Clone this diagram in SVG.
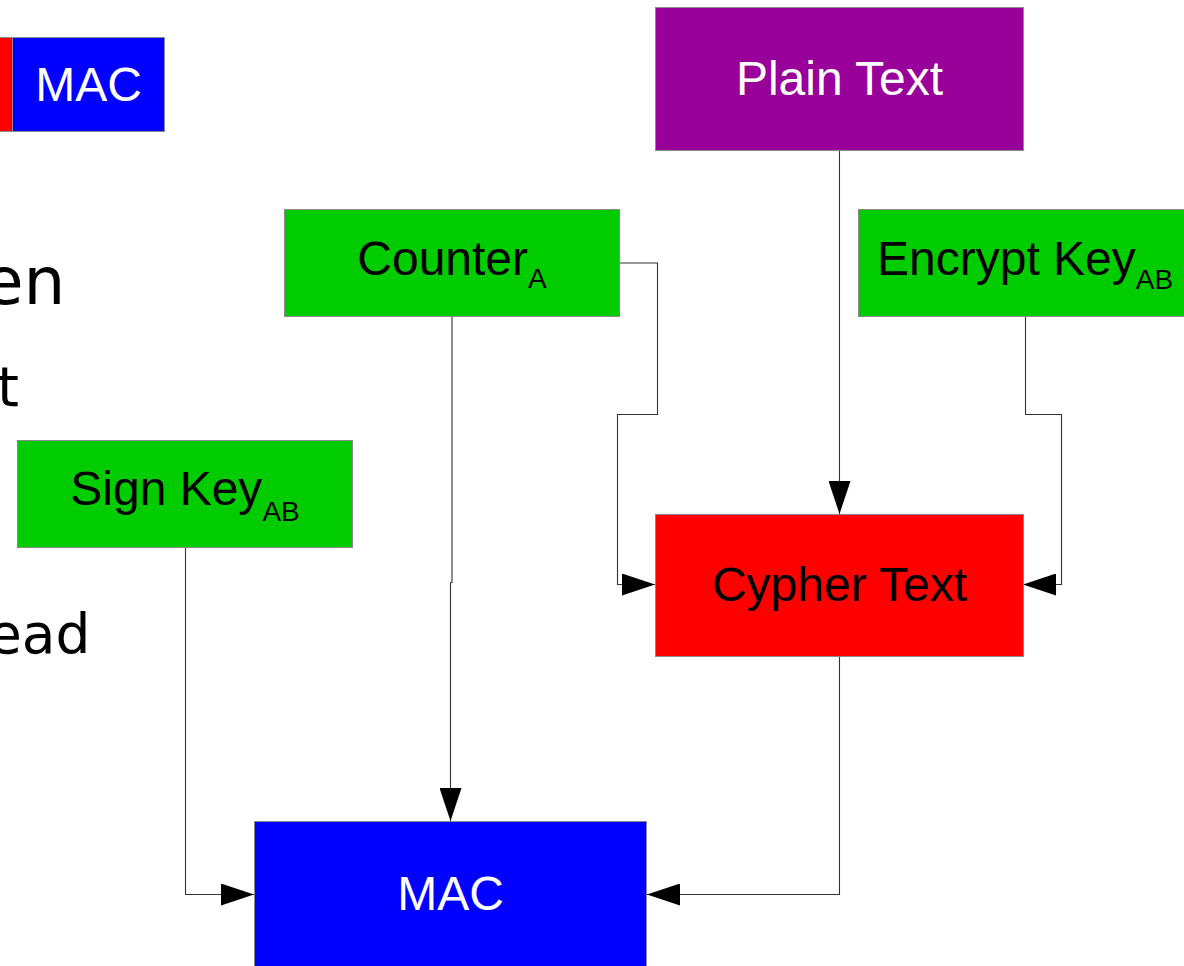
<svg xmlns="http://www.w3.org/2000/svg" width="1184" height="966" viewBox="0 0 1184 966">
  <style>
    .box { stroke: #8a8a8a; stroke-width: 1; }
    .lbl { font-family: "Liberation Sans", Arial, sans-serif; font-size: 48px; text-anchor: middle; }
    .sub { font-size: 28px; }
    .dark { fill: #000000; }
    .light { fill: #ffffff; }
    .side { font-family: "DejaVu Sans", sans-serif; fill: #000000; }
    .wire { fill: none; stroke: #333333; stroke-width: 1.1; }
  </style>
  <defs>
    <marker id="arrow" viewBox="0 0 33 22" refX="33" refY="11" markerWidth="33" markerHeight="22" markerUnits="userSpaceOnUse" orient="auto">
      <path d="M0,0 L33,11 L0,22 Z" fill="#000000"/>
    </marker>
  </defs>

  <rect width="1184" height="966" fill="#ffffff"/>

  <!-- partial text running off the left edge -->
  <g id="side-text">
    <text class="side" x="-17" y="304" font-size="66">en</text>
    <text class="side" x="-3" y="406" font-size="56">t</text>
    <text class="side" x="-12" y="653" font-size="55">ead</text>
  </g>

  <!-- small packet strip at top left -->
  <g id="packet-strip">
    <rect x="-2" y="37.5" width="14.5" height="94" fill="#ff0000" class="box"/>
    <rect x="12.5" y="37.5" width="152" height="94" fill="#0000ff" class="box"/>
    <text class="lbl light" x="88.5" y="101">MAC</text>
  </g>

  <!-- connectors -->
  <g id="connectors">
    <path class="wire" d="M839.5,150 V514" marker-end="url(#arrow)"/>
    <path class="wire" d="M619,263 H657.5 V414.5 H617.5 V584.5 H655" marker-end="url(#arrow)"/>
    <path class="wire" d="M1025.5,316 V414.5 H1061.5 V584.5 H1023" marker-end="url(#arrow)"/>
    <path class="wire" d="M452,316 V582.5 H450.5 V821" marker-end="url(#arrow)"/>
    <path class="wire" d="M185.5,548 V894.5 H254" marker-end="url(#arrow)"/>
    <path class="wire" d="M839.5,656 V894.5 H647" marker-end="url(#arrow)"/>
  </g>

  <g id="plain-text">
    <rect x="655.5" y="7.5" width="368" height="143" fill="#990099" class="box"/>
    <text class="lbl light" x="839.5" y="95">Plain Text</text>
  </g>

  <g id="counter">
    <rect x="284.5" y="209.5" width="335" height="107" fill="#00cc00" class="box"/>
    <text class="lbl dark" x="452" y="275">Counter<tspan class="sub" dy="13">A</tspan></text>
  </g>

  <g id="encrypt-key">
    <rect x="858.5" y="209.5" width="340" height="107" fill="#00cc00" class="box"/>
    <text class="lbl dark" x="877" y="275" style="text-anchor:start">Encrypt Key<tspan class="sub" dy="14">AB</tspan></text>
  </g>

  <g id="sign-key">
    <rect x="17.5" y="440.5" width="335" height="107" fill="#00cc00" class="box"/>
    <text class="lbl dark" x="185" y="505">Sign Key<tspan class="sub" dy="16">AB</tspan></text>
  </g>

  <g id="cypher-text">
    <rect x="655.5" y="514.5" width="368" height="142" fill="#ff0000" class="box"/>
    <text class="lbl dark" x="839.5" y="601">Cypher Text</text>
  </g>

  <g id="mac">
    <rect x="254.5" y="821.5" width="392" height="150" fill="#0000ff" class="box"/>
    <text class="lbl light" x="450.5" y="910">MAC</text>
  </g>
</svg>
